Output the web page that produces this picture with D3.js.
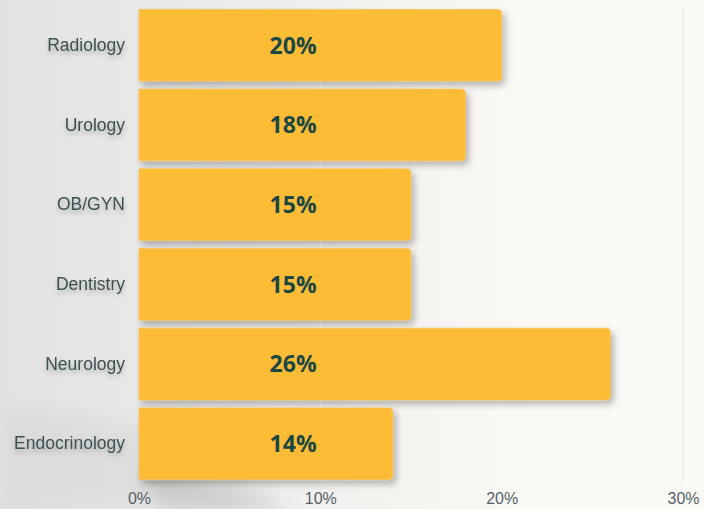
<!DOCTYPE html>
<html>
<head>
<meta charset="utf-8">
<script src="https://cdn.jsdelivr.net/npm/d3@7"></script>
<style>
  html, body { margin: 0; padding: 0; }
  body { width: 704px; height: 509px; overflow: hidden; }
</style>
</head>
<body>
<svg id="chart"></svg>
<script>
// chart data
const specialties = ["Radiology", "Urology", "OB/GYN", "Dentistry", "Neurology", "Endocrinology"];
const shares = [20, 18, 15, 15, 26, 14];
const tickValues = [0, 10, 20, 30];

const width = 704, height = 509;
const margin = { top: 7, right: 21, bottom: 27, left: 139 };

const svg = d3.select("#chart").attr("width", width).attr("height", height);
const defs = svg.append("defs");

// background gradient (gray left, cream right)
const bg = defs.append("linearGradient").attr("id", "bg").attr("x1", 0).attr("x2", 1).attr("y1", 0).attr("y2", 0);
bg.append("stop").attr("offset", "0%").attr("stop-color", "#e2e2e2");
bg.append("stop").attr("offset", "45%").attr("stop-color", "#f1f0ee");
bg.append("stop").attr("offset", "75%").attr("stop-color", "#fbf9f4");
bg.append("stop").attr("offset", "100%").attr("stop-color", "#fcfaf6");
svg.append("rect").attr("width", width).attr("height", height).attr("fill", "url(#bg)");

// soft swoosh shapes in the lower left
const blur = defs.append("filter").attr("id", "blur").attr("x", "-20%").attr("y", "-20%").attr("width", "140%").attr("height", "140%");
blur.append("feGaussianBlur").attr("stdDeviation", 8);
svg.append("path")
    .attr("d", "M0,410 C80,400 160,430 230,470 C260,488 280,500 290,509 L0,509 Z")
    .attr("fill", "#d4d4d4").attr("opacity", 0.45).attr("filter", "url(#blur)");
svg.append("path")
    .attr("d", "M140,470 C200,480 250,495 280,509 L160,509 Z")
    .attr("fill", "#b0b0b0").attr("opacity", 0.4).attr("filter", "url(#blur)");

const x = d3.scaleLinear()
    .domain([0, 30])
    .range([margin.left, width - margin.right]);

const y = d3.scaleBand()
    .domain(specialties)
    .range([margin.top, height - margin.bottom])
    .paddingInner(0.1)
    .paddingOuter(0.03);

// gridlines
svg.append("g")
    .selectAll("line")
    .data(tickValues.slice(1))
    .join("line")
    .attr("x1", d => x(d)).attr("x2", d => x(d))
    .attr("y1", margin.top + 2).attr("y2", height - margin.bottom)
    .attr("stroke", (d, i) => i === 2 ? "#ebe8e3" : "#ffffff")
    .attr("stroke-width", 1.2);

// bar shadow
const shadow = defs.append("filter").attr("id", "shadow").attr("x", "-10%").attr("y", "-20%").attr("width", "125%").attr("height", "150%");
shadow.append("feDropShadow")
    .attr("dx", 3).attr("dy", 4).attr("stdDeviation", 3.5)
    .attr("flood-color", "#000").attr("flood-opacity", 0.28);

const textShadow = defs.append("filter").attr("id", "tshadow").attr("x", "-20%").attr("y", "-50%").attr("width", "140%").attr("height", "220%");
textShadow.append("feDropShadow")
    .attr("dx", 0).attr("dy", 3).attr("stdDeviation", 2.5)
    .attr("flood-color", "#000").attr("flood-opacity", 0.25);

// bars: flat left edge, rounded right corners
const r = 4;
function barPath(d, i) {
    const x0 = x(0), x1 = x(d), y0 = y(specialties[i]), h = y.bandwidth();
    return `M${x0},${y0} H${x1 - r} Q${x1},${y0} ${x1},${y0 + r} V${y0 + h - r} Q${x1},${y0 + h} ${x1 - r},${y0 + h} H${x0} Z`;
}

svg.append("g")
    .attr("filter", "url(#shadow)")
    .selectAll("path")
    .data(shares)
    .join("path")
    .attr("d", barPath)
    .attr("fill", "#fdbc34")
    .attr("stroke", "#f3c45a")
    .attr("stroke-width", 0.8);

// value labels
svg.append("g")
    .selectAll("text")
    .data(shares)
    .join("text")
    .attr("x", x(8.5))
    .attr("y", (d, i) => y(specialties[i]) + y.bandwidth() / 2)
    .attr("dy", "0.36em")
    .attr("text-anchor", "middle")
    .attr("font-family", "'Open Sans', Lato, sans-serif")
    .attr("font-weight", "bold")
    .attr("font-size", 23)
    .attr("fill", "#1c4843")
    .text(d => d + "%");

// category axis
const yAxis = svg.append("g")
    .attr("transform", `translate(${margin.left},0)`)
    .call(d3.axisLeft(y).tickSize(0).tickPadding(14));
yAxis.select(".domain").remove();
yAxis.selectAll("text")
    .attr("font-family", "'Liberation Sans', Arial, sans-serif")
    .attr("font-size", 17.5)
    .attr("fill", "#3b5151")
    .attr("filter", "url(#tshadow)");

// value axis
const xAxis = svg.append("g")
    .attr("transform", `translate(0,${height - margin.bottom})`)
    .call(d3.axisBottom(x).tickValues(tickValues).tickFormat(d => d + "%").tickSize(0).tickPadding(11));
xAxis.select(".domain").remove();
xAxis.selectAll("text")
    .attr("font-family", "'Liberation Sans Narrow', 'Liberation Sans', sans-serif")
    .attr("font-size", 16)
    .attr("fill", "#55606a");
</script>
</body>
</html>
